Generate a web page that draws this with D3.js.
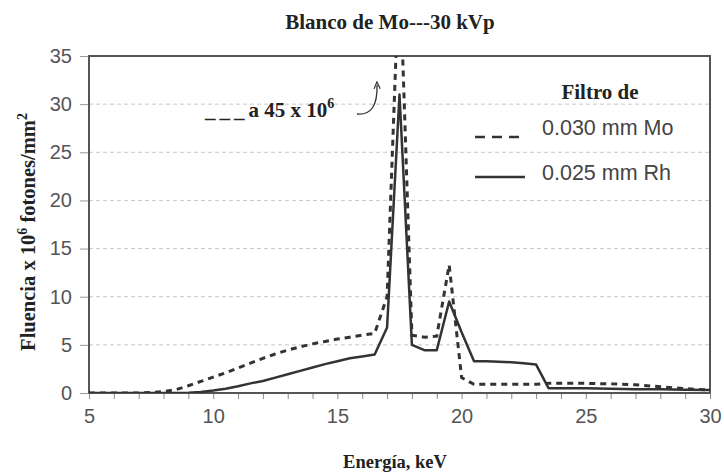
<!DOCTYPE html>
<html>
<head>
<meta charset="utf-8">
<script src="https://cdn.jsdelivr.net/npm/d3@7"></script>
<style>
  body { margin: 0; background: #fff; }
  svg text { fill: #222; }
  .tick text { font-family: "Liberation Sans", Arial, sans-serif; font-size: 20px; fill: #555; }
  .serif { font-family: "Liberation Serif", "Times New Roman", serif; font-weight: bold; }
</style>
</head>
<body>
<svg id="viz"></svg>
<script>
const width = 724;
const height = 474;

// energy grid (keV) shared by both spectra
const energy = [5, 7, 7.5, 8, 8.5, 9, 9.5, 10, 10.5, 11, 11.5, 12, 12.5, 13, 13.5, 14, 14.5,
    15, 15.5, 16, 16.5, 17, 17.5, 18, 18.5, 19, 19.5, 20, 20.5, 21, 21.5, 22, 22.5, 23,
    23.5, 24, 25, 26, 27, 28, 29, 30];

// 0.030 mm Mo filter (peak goes off scale, to 45 x 10^6)
const moFilter = [0, 0, 0.05, 0.15, 0.35, 0.75, 1.2, 1.65, 2.1, 2.6, 3.1, 3.6, 4.05, 4.45, 4.8,
    5.1, 5.35, 5.6, 5.8, 6.0, 6.2, 10, 45, 6.0, 5.8, 5.9, 13.3, 1.6, 0.9, 0.9, 0.9, 0.9, 0.9, 0.9,
    1.0, 1.0, 1.0, 0.95, 0.85, 0.65, 0.45, 0.3];

// 0.025 mm Rh filter
const rhFilter = [0, 0, 0, 0, 0, 0.02, 0.1, 0.25, 0.45, 0.7, 1.0, 1.25, 1.6, 1.95, 2.3,
    2.65, 3.0, 3.3, 3.6, 3.8, 4.0, 6.8, 31, 5.0, 4.45, 4.45, 9.5, 6.3, 3.3, 3.3, 3.25, 3.2, 3.1, 2.95,
    0.5, 0.5, 0.5, 0.45, 0.4, 0.38, 0.33, 0.3];

const xTicks = [5, 10, 15, 20, 25, 30];
const yTicks = [0, 5, 10, 15, 20, 25, 30, 35];

const margin = { top: 56, right: 14, bottom: 81, left: 89 };
const innerW = width - margin.left - margin.right;
const innerH = height - margin.top - margin.bottom;

const x = d3.scaleLinear().domain([5, 30]).range([0, innerW]);
const y = d3.scaleLinear().domain([0, 35]).range([innerH, 0]);

const svg = d3.select("#viz").attr("width", width).attr("height", height);

svg.append("text")
    .attr("class", "serif")
    .attr("x", 390).attr("y", 29)
    .attr("text-anchor", "middle")
    .style("font-size", "21px")
    .text("Blanco de Mo---30 kVp");

const g = svg.append("g").attr("transform", `translate(${margin.left},${margin.top})`);

g.append("clipPath").attr("id", "clip")
    .append("rect").attr("width", innerW).attr("height", innerH);

// grid
g.append("g").selectAll("line")
    .data(yTicks.filter(d => d > 0 && d < 35))
    .enter().append("line")
    .attr("x1", 0).attr("x2", innerW)
    .attr("y1", d => y(d)).attr("y2", d => y(d))
    .attr("stroke", "#c8c8c8")
    .attr("stroke-dasharray", "4,3")
    .attr("stroke-width", 1);

// y axis
const yAxis = g.append("g")
    .call(d3.axisLeft(y).tickValues(yTicks).tickSize(9).tickPadding(8));
yAxis.select(".domain").remove();
yAxis.selectAll(".tick line").attr("stroke", "#999");

// x axis: minor ticks every keV, labels every 5
const xAxis = g.append("g")
    .attr("transform", `translate(0,${innerH})`)
    .call(d3.axisBottom(x).tickValues(d3.range(5, 31, 1)).tickSize(6).tickFormat(""));
xAxis.select(".domain").remove();
xAxis.selectAll(".tick line").attr("stroke", "#888");

const xLabels = g.append("g")
    .attr("transform", `translate(0,${innerH})`)
    .call(d3.axisBottom(x).tickValues(xTicks).tickSize(0).tickPadding(16));
xLabels.select(".domain").remove();

// frame
g.append("rect")
    .attr("width", innerW).attr("height", innerH)
    .attr("fill", "none")
    .attr("stroke", "#555")
    .attr("stroke-width", 2);

const line = d3.line()
    .x((d, i) => x(energy[i]))
    .y(d => y(d));

const plot = g.append("g").attr("clip-path", "url(#clip)");

plot.append("path")
    .datum(rhFilter)
    .attr("d", line)
    .attr("fill", "none")
    .attr("stroke", "#333")
    .attr("stroke-width", 2.5)
    .attr("stroke-linejoin", "round");

plot.append("path")
    .datum(moFilter)
    .attr("d", line)
    .attr("fill", "none")
    .attr("stroke", "#333")
    .attr("stroke-width", 3)
    .attr("stroke-dasharray", "6,5");

// axis titles
svg.append("text")
    .attr("class", "serif")
    .attr("x", 395).attr("y", 468)
    .attr("text-anchor", "middle")
    .style("font-size", "18.5px")
    .text("Energía, keV");

const yTitle = svg.append("text")
    .attr("class", "serif")
    .attr("transform", "translate(35,232) rotate(-90)")
    .attr("text-anchor", "middle")
    .style("font-size", "20.5px");
yTitle.append("tspan").text("Fluencia  x 10");
yTitle.append("tspan").attr("dy", -8).style("font-size", "14px").text("6");
yTitle.append("tspan").attr("dy", 8).text("  fotones/mm");
yTitle.append("tspan").attr("dy", -8).style("font-size", "14px").text("2");

// legend
const legend = svg.append("g");
legend.append("text")
    .attr("class", "serif")
    .attr("x", 600).attr("y", 99)
    .attr("text-anchor", "middle")
    .style("font-size", "21px")
    .text("Filtro de");

const legendItems = [
    { label: "0.030 mm Mo", dash: "10,7", ly: 137, ty: 135 },
    { label: "0.025 mm Rh", dash: null, ly: 177, ty: 180 }
];
legendItems.forEach(function (d) {
    legend.append("line")
        .attr("x1", 475).attr("x2", 525)
        .attr("y1", d.ly).attr("y2", d.ly)
        .attr("stroke", "#333")
        .attr("stroke-width", 2.5)
        .attr("stroke-dasharray", d.dash);
    legend.append("text")
        .attr("x", 542).attr("y", d.ty)
        .style("font-family", "'Liberation Sans', Arial, sans-serif")
        .style("font-size", "21.5px")
        .style("fill", "#444")
        .text(d.label);
});

// annotation for the off-scale Mo peak
const note = svg.append("text")
    .attr("class", "serif")
    .attr("x", 205).attr("y", 117)
    .style("font-size", "21px");
note.append("tspan").style("letter-spacing", "4px").text("___");
note.append("tspan").text("a 45 x 10");
note.append("tspan").attr("dy", -9).style("font-size", "14px").text("6");

svg.append("defs").append("marker")
    .attr("id", "arrow")
    .attr("viewBox", "0 0 10 10")
    .attr("refX", 5).attr("refY", 5)
    .attr("markerWidth", 6).attr("markerHeight", 6)
    .attr("orient", "auto")
    .append("path")
    .attr("d", "M0,1 L9,5 L0,9")
    .attr("fill", "none")
    .attr("stroke", "#333")
    .attr("stroke-width", 1.5);

svg.append("path")
    .attr("d", "M357,114 Q378,116 377,85")
    .attr("fill", "none")
    .attr("stroke", "#333")
    .attr("stroke-width", 1.3)
    .attr("marker-end", "url(#arrow)");
</script>
</body>
</html>
